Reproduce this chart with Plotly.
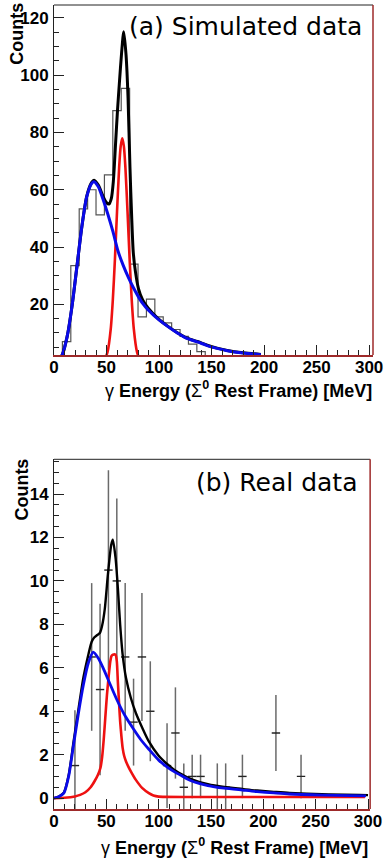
import plotly.graph_objects as go

# ---------------- (a) Simulated data ----------------
sim_bin_low = [0, 8, 16, 24, 32, 40, 48, 56, 64, 72, 80, 88, 96, 104, 112, 120, 128, 136, 144, 152, 160]
sim_bin_width = 8
sim_counts = [0, 7, 33.5, 53.3, 60, 51.2, 65.2, 87.6, 95.4, 34, 15.6, 21.8, 15.6, 13.5, 11.2, 8.8, 6.1, 3.5, 2.0, 1.0, 0]

sim_total_x = [0, 4, 7.8, 12.5, 17.1, 21.8, 26.5, 31.2, 35.9, 38.1, 42.2, 46.9, 50, 52.3, 54.6, 56.5, 58.6,
               60.5, 62.2, 64.4, 66.4, 68.6, 70.5, 72.3, 74, 75.5, 77.5, 80.4, 84.4, 89.7, 99.1, 108.5,
               117.8, 127.2, 136.5, 145.9, 155.3, 165, 180, 197]
sim_total_y = [0, 0.4, 2.3, 8.7, 19.2, 33.1, 47.1, 57.8, 62.6, 63.3, 61.6, 57.5, 55.5, 55.0, 57.0, 63.0, 76.0,
               88.0, 97.0, 108.0, 115.2, 107.0, 92.0, 68.0, 50.0, 38.0, 31.5, 25.5, 21.5, 18.6, 15.0, 12.3,
               10.0, 8.1, 7.0, 5.7, 4.7, 3.9, 3.1, 2.5]

sim_bkg_x = [0, 4, 7.8, 12.5, 17.1, 21.8, 26.5, 31.2, 35.9, 38.1, 42.2, 46.9, 51.5, 56.2, 61, 66, 71, 75,
             80.4, 84.4, 89.7, 99.1, 108.5, 117.8, 127.2, 136.5, 145.9, 155.3, 165, 180, 197]
sim_bkg_y = [0, 0.4, 2.3, 8.7, 19.2, 33.1, 47.1, 57.6, 62.2, 62.8, 61.0, 56.4, 51.2, 45.3, 38.5, 33.5, 29.2, 26.2,
             22.6, 20.3, 18.0, 14.8, 12.2, 9.9, 8.0, 6.9, 5.6, 4.6, 3.8, 3.0, 2.4]

sim_sig_x = [44, 48, 51, 54, 56, 58, 60, 62, 63.5, 65, 66.5, 68, 70, 72, 74, 76, 79, 82, 86]
sim_sig_y = [0.1, 0.8, 3.4, 11.3, 21.5, 35.7, 52.3, 67.6, 75.2, 78.0, 75.2, 67.6, 52.3, 35.7, 21.5, 11.3, 3.4, 0.8, 0.1]

# ---------------- (b) Real data ----------------
real_x = [20, 36, 44, 52, 60, 68, 76, 84, 92, 108, 116, 124, 132, 140, 156, 164, 180, 212, 236]
real_y = [1.5, 6.5, 5.0, 10.5, 10.0, 6.5, 3.5, 6.5, 4.0, 1.5, 3.0, 0.5, 1.0, 1.0, 0.5, 0.5, 1.0, 3.0, 1.0]
real_err = [2.55, 3.4, 3.95, 4.6, 3.8, 3.4, 2.0, 2.95, 2.3, 1.95, 2.1, 1.1, 1.0, 1.0, 1.1, 1.1, 1.0, 1.75, 1.0]
real_half_bin = 4

real_total_x = [0, 5, 9.4, 14, 18.7, 23.4, 28.1, 32.8, 36, 38.4, 41, 43.8, 46, 48.5, 51.5, 54.7, 56.2, 58.8,
                61, 63.2, 65.6, 68.8, 73.5, 78.2, 84.4, 90.6, 100, 106.3, 115, 122, 131, 147, 162.5, 180,
                194, 210, 225, 256, 300]
real_total_y = [0, 0.08, 0.25, 1.05, 2.6, 4.1, 5.55, 6.6, 7.2, 7.4, 7.5, 7.6, 7.95, 8.7, 10.3, 11.67, 11.9, 11.06,
                9.68, 7.99, 6.6, 5.53, 4.6, 3.92, 3.23, 2.61, 1.95, 1.65, 1.3, 1.1, 0.88, 0.64, 0.51, 0.42,
                0.35, 0.29, 0.24, 0.18, 0.14]

real_bkg_x = [0, 5, 9.4, 14, 18.7, 23.4, 28.1, 32.8, 37.5, 42.2, 46.9, 53.1, 59.4, 67.2, 75, 82.8, 90.6, 100,
              108.5, 115.6, 122, 131, 147, 162.5, 180, 194, 210, 225, 256, 298]
real_bkg_y = [0, 0.08, 0.23, 1.0, 2.46, 3.92, 5.22, 6.22, 6.72, 6.45, 6.0, 5.3, 4.6, 3.85, 3.25, 2.7, 2.25, 1.75,
              1.42, 1.2, 1.03, 0.8, 0.58, 0.46, 0.37, 0.3, 0.24, 0.19, 0.14, 0.1]

real_sig_x = [0, 10, 20, 25, 30, 35, 39, 42, 44.4, 46, 47.5, 49, 50.6, 52.2, 53.8, 55, 56.2, 58.8, 60, 61,
              62, 63.2, 64.5, 65.6, 67, 68.8, 71, 73.5, 78.2, 84.4, 90.6, 95, 100, 150, 200, 250, 297]
real_sig_y = [0, 0.02, 0.08, 0.15, 0.27, 0.5, 0.8, 1.08, 1.4, 1.9, 2.7, 3.7, 4.76, 5.6, 6.3, 6.55, 6.6, 6.6, 6.3, 5.37,
              4.5, 3.53, 2.8, 2.3, 1.95, 1.69, 1.45, 1.22, 0.84, 0.46, 0.23, 0.12, 0.07, 0.05, 0.05, 0.05, 0.05]

# ---------------- figure ----------------
W, H = 390, 858
ML, MR, MT, MB = 54, 11, 5, 49
BLUE = "#0a0ae8"
RED = "#ee1111"
FRAME_RED = "#9e2a2a"

fig = go.Figure()

# histogram outline (step) built from bin edges
hx, hy = [], []
for lo, c in zip(sim_bin_low, sim_counts):
    hx += [lo, lo + sim_bin_width]
    hy += [c, c]
fig.add_trace(go.Scatter(x=hx, y=hy, mode="lines", line=dict(color="#555555", width=1.2, shape="hv"),
                         xaxis="x", yaxis="y", hoverinfo="skip", showlegend=False))
fig.add_trace(go.Scatter(x=sim_total_x, y=sim_total_y, mode="lines",
                         line=dict(color="black", width=3, shape="spline", smoothing=0.7),
                         xaxis="x", yaxis="y", showlegend=False))
fig.add_trace(go.Scatter(x=sim_sig_x, y=sim_sig_y, mode="lines",
                         line=dict(color=RED, width=2.6, shape="spline", smoothing=0.7),
                         xaxis="x", yaxis="y", showlegend=False))
fig.add_trace(go.Scatter(x=sim_bkg_x, y=sim_bkg_y, mode="lines",
                         line=dict(color=BLUE, width=3, shape="spline", smoothing=0.7),
                         xaxis="x", yaxis="y", showlegend=False))

# real data points with error bars
fig.add_trace(go.Scatter(x=real_x, y=real_y, mode="markers", marker=dict(size=1, color="#333333"),
                         error_y=dict(type="data", array=real_err, visible=True, width=0, color="#6a6a6a", thickness=1.5),
                         error_x=dict(type="constant", value=real_half_bin, visible=True, width=0, color="#222222", thickness=1.4),
                         xaxis="x2", yaxis="y2", showlegend=False))
fig.add_trace(go.Scatter(x=real_total_x, y=real_total_y, mode="lines",
                         line=dict(color="black", width=2.4, shape="spline", smoothing=0.7),
                         xaxis="x2", yaxis="y2", showlegend=False))
fig.add_trace(go.Scatter(x=real_sig_x, y=real_sig_y, mode="lines",
                         line=dict(color=RED, width=2.6, shape="spline", smoothing=0.6),
                         xaxis="x2", yaxis="y2", showlegend=False))
fig.add_trace(go.Scatter(x=real_bkg_x, y=real_bkg_y, mode="lines",
                         line=dict(color=BLUE, width=2.8, shape="spline", smoothing=0.7),
                         xaxis="x2", yaxis="y2", showlegend=False))

tickfont = dict(family="Liberation Sans, Arial, sans-serif", size=17, color="black", weight="bold")
minor_common = dict(ticks="inside", ticklen=5, tickcolor="#222222", tickwidth=1, showgrid=False)

def xaxis_cfg(domain, rng, anchor):
    return dict(domain=domain, range=rng, anchor=anchor, showgrid=False, zeroline=False,
                showline=True, linecolor=FRAME_RED, linewidth=1.5, mirror=False,
                tickmode="linear", tick0=0, dtick=50, ticks="inside", ticklen=10, tickwidth=1,
                tickcolor="#222222", tickfont=tickfont, ticklabelstandoff=-4,
                minor=dict(dtick=10, tick0=0, **minor_common))

def yaxis_cfg(domain, rng, anchor, dtick, mdtick):
    return dict(domain=domain, range=rng, anchor=anchor, showgrid=False, zeroline=False,
                showline=True, linecolor="#222222", linewidth=1, mirror=False,
                tickmode="linear", tick0=0, dtick=dtick, ticks="inside", ticklen=10, tickwidth=1,
                tickcolor="#222222", tickfont=tickfont, ticklabelstandoff=1,
                minor=dict(dtick=mdtick, tick0=0, **minor_common))

top_dom = [(809 - 355) / 804, 1.0]
bot_dom = [0.0, (809 - 459.3) / 804]

fig.update_layout(
    width=W, height=H,
    margin=dict(l=ML, r=MR, t=MT, b=MB),
    paper_bgcolor="white", plot_bgcolor="white",
    xaxis=xaxis_cfg([0, 1], [0, 303.7], "y"),
    yaxis=yaxis_cfg(top_dom, [2.3, 124.5], "x", 20, 5),
    xaxis2=xaxis_cfg([0, 0.991], [0, 302], "y2"),
    yaxis2=yaxis_cfg(bot_dom, [-0.5, 15.6], "x2", 2, 0.5),
    showlegend=False,
)

# frame top (black) and right (dark red) edges
for xd, yd in (("x domain", "y domain"), ("x2 domain", "y2 domain")):
    fig.add_shape(type="line", xref=xd, yref=yd, x0=0, x1=1, y0=1, y1=1, line=dict(color="#222222", width=1))
    fig.add_shape(type="line", xref=xd, yref=yd, x0=1, x1=1, y0=0, y1=1, line=dict(color=FRAME_RED, width=1.5))

title_font = dict(family="DejaVu Sans, Verdana, sans-serif", size=25, color="black")
axis_font = dict(family="Liberation Sans, Arial, sans-serif", size=18, color="black")

def px_x(p):
    return (p - ML) / (W - ML - MR)

def px_y(p):
    return (H - MB - p) / (H - MT - MB)

xtitle = "γ<b> Energy (</b>Σ<b><sup>0</sup> Rest Frame) [MeV]</b>"
fig.add_annotation(text="(a) Simulated data", xref="paper", yref="paper", x=px_x(370), y=px_y(26.5),
                   xanchor="right", yanchor="middle", showarrow=False, font=title_font)
fig.add_annotation(text="(b) Real data", xref="paper", yref="paper", x=px_x(365), y=px_y(482.5),
                   xanchor="right", yanchor="middle", showarrow=False, font=title_font)
fig.add_annotation(text=xtitle, xref="paper", yref="paper", x=px_x(380), y=px_y(390),
                   xanchor="right", yanchor="middle", showarrow=False, font=axis_font)
fig.add_annotation(text=xtitle, xref="paper", yref="paper", x=px_x(376), y=px_y(846),
                   xanchor="right", yanchor="middle", showarrow=False, font=axis_font)
fig.add_annotation(text="<b>Counts</b>", textangle=-90, xref="paper", yref="paper", x=px_x(16), y=px_y(1),
                   xanchor="center", yanchor="top", showarrow=False, font=axis_font)
fig.add_annotation(text="<b>Counts</b>", textangle=-90, xref="paper", yref="paper", x=px_x(21), y=px_y(457),
                   xanchor="center", yanchor="top", showarrow=False, font=axis_font)

fig.write_html("out.html", config={"displayModeBar": False},
               post_script="document.body.style.margin='0px';document.body.style.padding='0px';")
